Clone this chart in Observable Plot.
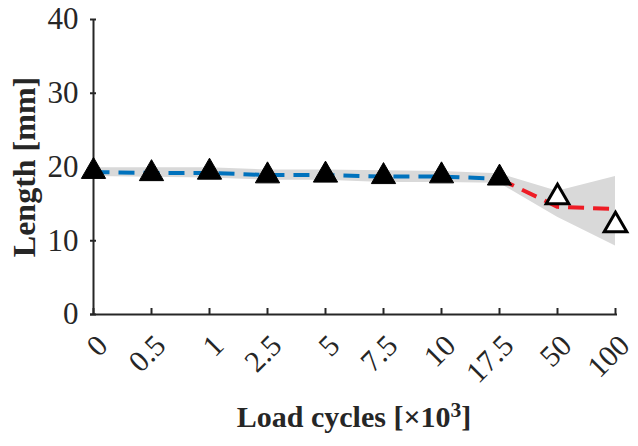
<!DOCTYPE html>
<html>
<head>
<meta charset="utf-8">
<script src="https://cdn.jsdelivr.net/npm/d3@7"></script>
<script src="https://cdn.jsdelivr.net/npm/@observablehq/plot@0.6"></script>
<style>
  html, body { margin: 0; padding: 0; background: #fff; }
  #chart svg { display: block; }
</style>
</head>
<body>
<div id="chart"></div>
<script>
const categories = ["0", "0.5", "1", "2.5", "5", "7.5", "10", "17.5", "50", "100"];
const markerValues = [19.4, 19.1, 19.3, 18.8, 18.9, 18.7, 18.8, 18.5, 15.9, 12.1];
const bandUpper = [19.9, 19.9, 19.9, 19.6, 19.6, 19.5, 19.4, 19.1, 16.7, 18.7];
const bandLower = [18.7, 18.6, 18.5, 18.2, 18.2, 17.9, 17.9, 17.8, 13.2, 9.3];
const blueCats = ["0", "0.5", "1", "2.5", "5", "7.5", "10", "17.5"];
const blueValues = [19.3, 19.2, 19.2, 18.9, 18.9, 18.7, 18.7, 18.4];
const redCats = ["17.5", "50", "100"];
const redValues = [18.4, 14.6, 14.3];
const filledCount = 8;
const yTicks = [0, 10, 20, 30, 40];
const xTitleMain = "Load cycles [×10";
const xTitleSup = "3";
const xTitleEnd = "]";
const yTitle = "Length [mm]";

const W = 638, H = 446;
const mL = 90, mR = 21, mT = 19, mB = 132;
const frameW = W - mL - mR, frameH = H - mT - mB;
const ink = "#262626";
const serif = "Liberation Serif, Times New Roman, serif";

const band = categories.map((c, i) => ({c, lo: bandLower[i], hi: bandUpper[i]}));
const blue = blueCats.map((c, i) => ({c, v: blueValues[i]}));
const red = redCats.map((c, i) => ({c, v: redValues[i]}));
const pts = categories.map((c, i) => ({c, v: markerValues[i], filled: i < filledCount}));

const chart = Plot.plot({
  width: W, height: H,
  marginLeft: mL, marginRight: mR, marginTop: mT, marginBottom: mB,
  style: {fontFamily: serif, background: "#fff", overflow: "visible"},
  x: {type: "point", domain: categories, padding: 0, axis: null},
  y: {domain: [0, 40], axis: null},
  marks: [
    Plot.areaY(band, {x: "c", y1: "lo", y2: "hi", fill: "#d9d9d9", curve: "linear"}),
    Plot.line(blue, {x: "c", y: "v", stroke: "#0072BD", strokeWidth: 4, strokeDasharray: "16,9", strokeLinecap: "butt"}),
    Plot.line(red, {x: "c", y: "v", stroke: "#ee1c25", strokeWidth: 4, strokeDasharray: "16,9", strokeLinecap: "butt"}),
    Plot.ruleX([categories[0]], {stroke: ink, strokeWidth: 2}),
    Plot.ruleY([0], {stroke: ink, strokeWidth: 2}),
    Plot.ruleY(yTicks, {y: d => d, stroke: ink, strokeWidth: 2, insetRight: frameW - 6}),
    Plot.ruleX(categories, {x: d => d, stroke: ink, strokeWidth: 2, insetTop: frameH - 6}),
    Plot.dot(pts.filter(d => d.filled), {x: "c", y: "v", symbol: "triangle", r: 9, fill: "#000", stroke: "#000", strokeWidth: 1}),
    Plot.dot(pts.filter(d => !d.filled), {x: "c", y: "v", symbol: "triangle", r: 8.4, fill: "#fff", stroke: "#000", strokeWidth: 3}),
    Plot.text(yTicks, {y: d => d, text: d => String(d), frameAnchor: "left", dx: -12, textAnchor: "end", lineAnchor: "middle", fontSize: 31, fill: ink}),
    Plot.text(categories, {x: d => d, text: d => d, frameAnchor: "bottom", dx: 9, dy: 26, rotate: -45, textAnchor: "end", lineAnchor: "middle", fontSize: 30, fill: ink}),
    Plot.text([yTitle], {text: d => d, frameAnchor: "left", dx: -66, rotate: -90, textAnchor: "middle", lineAnchor: "middle", fontSize: 32, fontWeight: "bold", fill: ink}),
    Plot.text([xTitleMain + xTitleSup + xTitleEnd], {text: d => d, frameAnchor: "bottom", dy: 103, textAnchor: "middle", lineAnchor: "middle", fontSize: 30, fontWeight: "bold", fill: ink})
  ]
});
// render the exponent as a raised superscript
d3.select(chart).selectAll("text").filter(function() { return this.textContent === xTitleMain + xTitleSup + xTitleEnd; }).each(function() {
  const t = d3.select(this);
  t.text(null);
  t.append("tspan").text(xTitleMain);
  t.append("tspan").attr("dy", "-0.45em").attr("font-size", "0.72em").text(xTitleSup);
  t.append("tspan").attr("dy", "0.32em").text(xTitleEnd);
});
document.getElementById("chart").appendChild(chart);
</script>
</body>
</html>
